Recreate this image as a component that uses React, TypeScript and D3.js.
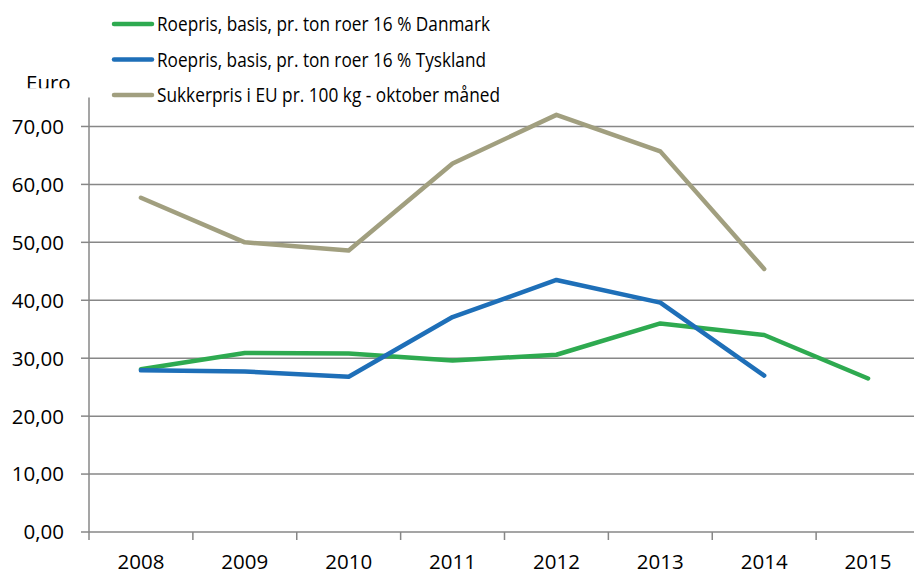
import React from "react";
import * as d3 from "d3";

const years = ["2008", "2009", "2010", "2011", "2012", "2013", "2014", "2015"];
const danmark = [28.1, 30.9, 30.8, 29.6, 30.6, 36.0, 34.0, 26.5];
const tyskland = [27.9, 27.7, 26.8, 37.1, 43.5, 39.6, 27.0];
const sukker = [57.7, 50.0, 48.6, 63.6, 72.0, 65.7, 45.4];
const yTicks = [0, 10, 20, 30, 40, 50, 60, 70];
const seriesNames = [
  "Roepris, basis, pr. ton roer 16 % Danmark",
  "Roepris, basis, pr. ton roer 16 % Tyskland",
  "Sukkerpris i EU pr. 100 kg - oktober måned",
];
const legendWidths = [333, 329, 343];
const colors = ["#2EAA50", "#1E6FB8", "#A19F7F"];

export default function App() {
  const W = 914, H = 574;
  const left = 89, right = 920, top = 97.5, bottom = 532;
  const x = d3.scaleBand<string>().domain(years).range([left, right]).padding(0);
  const y = d3.scaleLinear().domain([0, 75]).range([bottom, top]);
  const line = d3
    .line<number>()
    .x((_, i) => (x(years[i]) as number) + x.bandwidth() / 2)
    .y((d) => y(d));
  const series = [danmark, tyskland, sukker];
  const font = "'Open Sans', sans-serif";
  const fmt = (v: number) => v.toFixed(2).replace(".", ",");
  const gridColor = "#878787";
  const legendY = [24, 59.5, 95];

  return (
    <svg width={W} height={H} style={{ position: "absolute", left: 0, top: 0, background: "#fff" }}>
      <defs>
        <clipPath id="euroClip">
          <rect x={0} y={0} width={89} height={88.3} />
        </clipPath>
      </defs>
      <rect x={0} y={0} width={W} height={H} fill="#fff" />
      {yTicks.map((t) => (
        <g key={t}>
          <line x1={left} x2={W} y1={y(t)} y2={y(t)} stroke={gridColor} strokeWidth={1.5} />
          <line x1={left - 8} x2={left} y1={y(t)} y2={y(t)} stroke={gridColor} strokeWidth={1.5} />
          <text x={64} y={y(t)} dy="0.36em" textAnchor="end" fontFamily={font} fontSize={20.5} fill="#000">
            {fmt(t)}
          </text>
        </g>
      ))}
      <line x1={left} x2={left} y1={top} y2={bottom} stroke={gridColor} strokeWidth={1.5} />
      {years.map((yr) => (
        <line
          key={"t" + yr}
          x1={x(yr) as number}
          x2={x(yr) as number}
          y1={bottom}
          y2={bottom + 8}
          stroke={gridColor}
          strokeWidth={1.5}
        />
      ))}
      {years.map((yr) => (
        <text
          key={"l" + yr}
          x={(x(yr) as number) + x.bandwidth() / 2}
          y={569}
          textAnchor="middle"
          fontFamily={font}
          fontSize={20.5}
          fill="#000"
        >
          {yr}
        </text>
      ))}
      <text x={26} y={90} fontFamily={font} fontSize={20.5} fill="#000" clipPath="url(#euroClip)">
        Euro
      </text>
      {series.map((s, i) => (
        <path
          key={i}
          d={line(s) as string}
          fill="none"
          stroke={colors[i]}
          strokeWidth={4.5}
          strokeLinejoin="round"
          strokeLinecap="round"
        />
      ))}
      {seriesNames.map((n, i) => {
        const ly = legendY[i];
        return (
          <g key={n}>
            <line x1={114} x2={152} y1={ly} y2={ly} stroke={colors[i]} strokeWidth={4.5} strokeLinecap="round" />
            <text
              x={157}
              y={ly}
              dy="0.36em"
              fontFamily={font}
              fontSize={20.5}
              fill="#000"
              textLength={legendWidths[i]}
              lengthAdjust="spacingAndGlyphs"
            >
              {n}
            </text>
          </g>
        );
      })}
    </svg>
  );
}
